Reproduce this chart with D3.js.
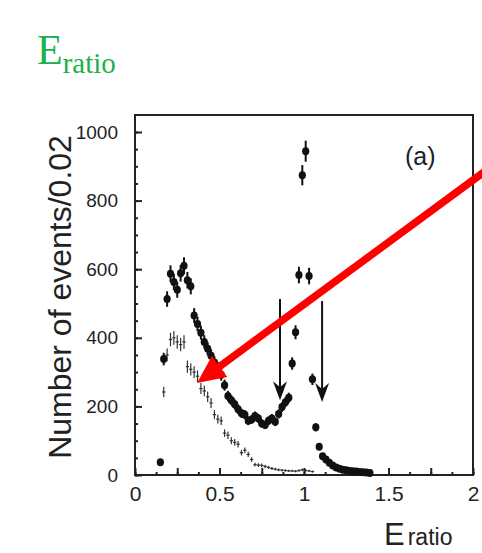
<!DOCTYPE html>
<html>
<head>
<meta charset="utf-8">
<script src="https://cdn.jsdelivr.net/npm/d3@7/dist/d3.min.js"></script>
<style>
  html, body { margin: 0; padding: 0; background: #fff; }
  svg { display: block; }
</style>
</head>
<body>
<svg id="chart" width="482" height="553"></svg>
<script>
// E_ratio distribution, bins of width 0.02 (bin centres)
const binCentersData = [
  0.15, 0.17, 0.19, 0.21, 0.23, 0.25, 0.27, 0.29, 0.31, 0.33,
  0.35, 0.37, 0.39, 0.41, 0.43, 0.45, 0.47, 0.49, 0.51, 0.53,
  0.55, 0.57, 0.59, 0.61, 0.63, 0.65, 0.67, 0.69, 0.71, 0.73,
  0.75, 0.77, 0.79, 0.81, 0.83, 0.85, 0.87, 0.89, 0.91, 0.93,
  0.95, 0.97, 0.99, 1.01, 1.03, 1.05, 1.07, 1.09, 1.11, 1.13,
  1.15, 1.17, 1.19, 1.21, 1.23, 1.25, 1.27, 1.29, 1.31, 1.33,
  1.35, 1.37, 1.39
];
// data: events per bin
const countsData = [
  37, 338, 513, 587, 563, 540, 588, 610, 568, 550,
  465, 440, 415, 388, 368, 348, 328, 312, 292, 262,
  230, 218, 206, 192, 180, 176, 158, 162, 172, 165,
  150, 146, 158, 165, 155, 178, 198, 212, 225, 325,
  416, 583, 874, 944, 580, 279, 139, 82, 55, 45,
  36, 28, 22, 18, 15, 14, 12, 11, 10, 9,
  8, 7, 6
];

// background estimate, same binning
const binCentersBkg = [
  0.17, 0.19, 0.21, 0.23, 0.25, 0.27, 0.29, 0.31, 0.33, 0.35,
  0.37, 0.39, 0.41, 0.43, 0.45, 0.47, 0.49, 0.51, 0.53, 0.55,
  0.57, 0.59, 0.61, 0.63, 0.65, 0.67, 0.69, 0.71, 0.73, 0.75,
  0.77, 0.79, 0.81, 0.83, 0.85, 0.87, 0.89, 0.91, 0.93, 0.95,
  0.97, 0.99, 1.01, 1.03, 1.05
];
const countsBkg = [
  242, 350, 395, 400, 388, 380, 388, 316, 308, 300,
  288, 252, 245, 228, 210, 176, 163, 158, 122, 116,
  100, 95, 90, 65, 72, 60, 45, 30, 29, 28,
  25, 22, 19, 17, 15, 14, 13, 12, 12, 11,
  13, 15, 13, 12, 10
];

const binWidth = 0.02;

// axis ticks
const xMajorTicks = [0, 0.5, 1, 1.5, 2];
const xMinorTicks = d3.range(0, 2.0001, 0.125);
const xMidTicks = d3.range(0, 2.0001, 0.25);
const yMajorTicks = [0, 200, 400, 600, 800, 1000];
const yMinorTicks = d3.range(0, 1001, 50);

// selection-cut arrows [x, top value, tip value]
const cutArrows = [
  [0.858, 513, 218],
  [1.107, 507, 213]
];
// highlight arrow [x0, v0, x1, v1] (tail to tip)
const highlightArrow = [2.07, 885, 0.367, 268];

const svg = d3.select("#chart");
const x = d3.scaleLinear().domain([0, 2]).range([135, 473]);
const y = d3.scaleLinear().domain([0, 1000]).range([475, 132]);

const frameTop = 115;

// heading
const head = svg.append("text")
  .attr("x", 37).attr("y", 64)
  .attr("fill", "#1bb14c")
  .style("font-family", "'Liberation Serif', 'Times New Roman', serif");
head.append("tspan").attr("font-size", 42).text("E");
head.append("tspan").attr("font-size", 29).attr("dy", 9).text("ratio");

// ticks
const tickFont = "'Liberation Sans', Arial, sans-serif";
const axisX = d3.axisBottom(x).tickValues(xMinorTicks).tickSize(-3).tickFormat("");
svg.append("g").attr("transform", `translate(0,475)`).call(axisX);
const axisXMid = d3.axisBottom(x).tickValues(xMidTicks).tickSize(-7).tickFormat("");
svg.append("g").attr("transform", `translate(0,475)`).call(axisXMid);
const axisXMajor = d3.axisBottom(x).tickValues(xMajorTicks).tickSize(0).tickPadding(11)
  .tickFormat(d => String(d));
const gxl = svg.append("g").attr("transform", `translate(0,475)`).call(axisXMajor);
gxl.selectAll("text").attr("font-size", 21).attr("fill", "#222")
  .style("font-family", tickFont);

const axisY = d3.axisLeft(y).tickValues(yMinorTicks).tickSize(-3).tickFormat("");
svg.append("g").attr("transform", `translate(135,0)`).call(axisY);
const axisYMajor = d3.axisLeft(y).tickValues(yMajorTicks).tickSize(-7).tickPadding(17)
  .tickFormat(d => String(d));
const gyl = svg.append("g").attr("transform", `translate(135,0)`).call(axisYMajor);
gyl.selectAll("text").attr("font-size", 19).attr("fill", "#222")
  .style("font-family", tickFont);

svg.selectAll(".domain").remove();
svg.selectAll(".tick line").attr("stroke", "#222").attr("stroke-width", 2);

// frame
svg.append("rect")
  .attr("x", x(0)).attr("y", frameTop)
  .attr("width", x(2) - x(0)).attr("height", y(0) - frameTop)
  .attr("fill", "none").attr("stroke", "#222").attr("stroke-width", 2);

// background crosses
const bkg = binCentersBkg.map((c, i) => ({ c, v: countsBkg[i] }));
const gb = svg.append("g").attr("stroke", "#333").attr("stroke-width", 1.2);
gb.selectAll("line.h").data(bkg).join("line").attr("class", "h")
  .attr("x1", d => x(d.c - binWidth / 2)).attr("x2", d => x(d.c + binWidth / 2))
  .attr("y1", d => y(d.v)).attr("y2", d => y(d.v));
gb.selectAll("line.v").data(bkg).join("line").attr("class", "v")
  .attr("x1", d => x(d.c)).attr("x2", d => x(d.c))
  .attr("y1", d => y(Math.max(0, d.v - Math.sqrt(d.v))))
  .attr("y2", d => y(d.v + Math.sqrt(d.v)));

// data points with statistical errors
const pts = binCentersData.map((c, i) => ({ c, v: countsData[i] }));
const gd = svg.append("g");
gd.selectAll("line").data(pts).join("line")
  .attr("stroke", "#111").attr("stroke-width", 2)
  .attr("x1", d => x(d.c)).attr("x2", d => x(d.c))
  .attr("y1", d => y(Math.max(0, d.v - Math.sqrt(d.v))))
  .attr("y2", d => y(d.v + Math.sqrt(d.v)));
gd.selectAll("ellipse").data(pts).join("ellipse")
  .attr("fill", "#111")
  .attr("cx", d => x(d.c)).attr("cy", d => y(d.v))
  .attr("rx", 3.6).attr("ry", 4);

// cut arrows
cutArrows.forEach(([cx, top, tip]) => {
  const px = x(cx), y0 = y(top), y1 = y(tip);
  svg.append("line").attr("x1", px).attr("x2", px)
    .attr("y1", y0).attr("y2", y1 - 6)
    .attr("stroke", "#111").attr("stroke-width", 2);
  svg.append("path")
    .attr("d", `M${px},${y1} L${px - 7},${y1 - 19} L${px},${y1 - 13} L${px + 7},${y1 - 19} Z`)
    .attr("fill", "#111");
});

// panel tag
svg.append("text").attr("x", 405).attr("y", 165)
  .attr("font-size", 25).attr("fill", "#222")
  .style("font-family", tickFont).text("(a)");

// highlight arrow
{
  const [ax0, av0, ax1, av1] = highlightArrow;
  const p0 = [x(ax0), y(av0)], p1 = [x(ax1), y(av1)];
  const dx = p1[0] - p0[0], dy = p1[1] - p0[1];
  const L = Math.hypot(dx, dy), ux = dx / L, uy = dy / L;
  const headLen = 28, headHalf = 13;
  const bx = p1[0] - ux * headLen, by = p1[1] - uy * headLen;
  svg.append("line")
    .attr("x1", p0[0]).attr("y1", p0[1]).attr("x2", bx + ux * 2).attr("y2", by + uy * 2)
    .attr("stroke", "#ff0000").attr("stroke-width", 7.5);
  svg.append("path")
    .attr("d", `M${p1[0]},${p1[1]} L${bx - uy * headHalf},${by + ux * headHalf} L${bx + uy * headHalf},${by - ux * headHalf} Z`)
    .attr("fill", "#ff0000");
}

// y-axis title
svg.append("text")
  .attr("transform", "translate(71,297) rotate(-90)")
  .attr("text-anchor", "middle")
  .attr("font-size", 32).attr("fill", "#222")
  .style("font-family", tickFont)
  .text("Number of events/0.02");

// x-axis title
const xt = svg.append("text").attr("x", 384).attr("y", 545)
  .attr("fill", "#222").style("font-family", tickFont);
xt.append("tspan").attr("font-size", 31).text("E");
xt.append("tspan").attr("font-size", 23).attr("dx", 3).text("ratio");
</script>
</body>
</html>
